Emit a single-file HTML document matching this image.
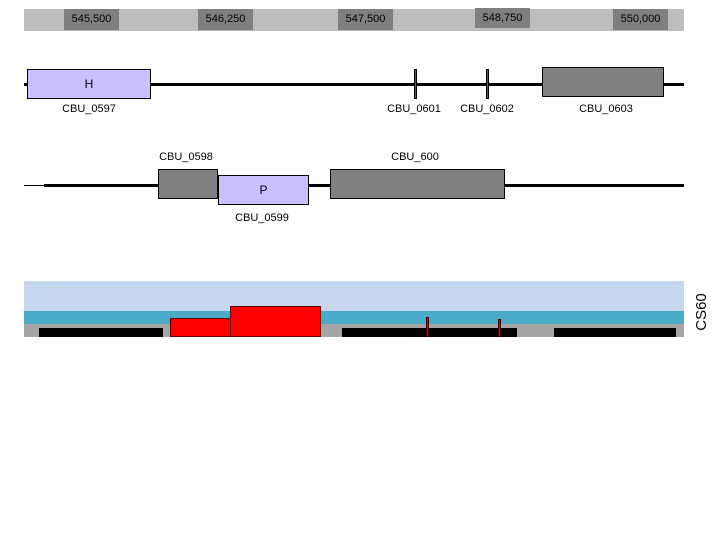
<!DOCTYPE html>
<html><head><style>
body{margin:0;width:720px;height:540px;background:#fff;position:relative;overflow:hidden;font-family:"Liberation Sans",sans-serif;font-size:11px}
div{position:absolute;box-sizing:border-box}
.t{text-align:center;color:#000}
.lb{background:#7f7f7f;color:#000;text-align:center;line-height:21px;height:21px;width:55px;top:9px}
.g{background:#808080;border:1px solid #000}
.p{background:#c8c0ff;border:1px solid #000;text-align:center}
</style></head><body>
<div style="left:24px;top:9px;width:660px;height:22px;background:#bdbdbd"></div>
<div class="lb" style="left:64px">545,500</div>
<div class="lb" style="left:198px">546,250</div>
<div class="lb" style="left:338px">547,500</div>
<div class="lb" style="left:475px;top:8px;height:20px;line-height:20px">548,750</div>
<div class="lb" style="left:613px">550,000</div>

<div style="left:24px;top:83px;width:660px;height:3px;background:#000"></div>
<div class="p" style="left:27px;top:69px;width:124px;height:30px;line-height:28px;font-size:12px">H</div>
<div style="left:414px;top:69px;width:3px;height:30px;background:#555;border:1px solid #000"></div>
<div style="left:486px;top:69px;width:3px;height:30px;background:#555;border:1px solid #000"></div>
<div class="g" style="left:542px;top:67px;width:122px;height:30px"></div>
<div class="t" style="left:39px;top:103px;width:100px">CBU_0597</div>
<div class="t" style="left:364px;top:103px;width:100px">CBU_0601</div>
<div class="t" style="left:437px;top:103px;width:100px">CBU_0602</div>
<div class="t" style="left:556px;top:103px;width:100px">CBU_0603</div>

<div style="left:24px;top:185px;width:20px;height:1px;background:#000"></div>
<div style="left:44px;top:184px;width:640px;height:3px;background:#000"></div>
<div class="g" style="left:158px;top:169px;width:60px;height:30px"></div>
<div class="p" style="left:218px;top:175px;width:91px;height:30px;line-height:28px;font-size:12px">P</div>
<div class="g" style="left:330px;top:169px;width:175px;height:30px"></div>
<div class="t" style="left:136px;top:151px;width:100px">CBU_0598</div>
<div class="t" style="left:365px;top:151px;width:100px">CBU_600</div>
<div class="t" style="left:212px;top:212px;width:100px">CBU_0599</div>

<div style="left:24px;top:281px;width:660px;height:30px;background:#c5d7ee"></div>
<div style="left:24px;top:311px;width:660px;height:13px;background:#4babc8"></div>
<div style="left:24px;top:324px;width:660px;height:13px;background:#a6a6a6"></div>
<div style="left:39px;top:328px;width:124px;height:9px;background:#000"></div>
<div style="left:342px;top:328px;width:175px;height:9px;background:#000"></div>
<div style="left:554px;top:328px;width:122px;height:9px;background:#000"></div>
<div style="left:170px;top:318px;width:61px;height:19px;background:#f00;border:1px solid #600"></div>
<div style="left:230px;top:306px;width:91px;height:31px;background:#f00;border:1px solid #600"></div>
<div style="left:426px;top:317px;width:3px;height:20px;background:#d00;border:1px solid #400"></div>
<div style="left:498px;top:319px;width:3px;height:18px;background:#d00;border:1px solid #400"></div>
<div style="left:682px;top:302px;width:40px;height:20px;transform:rotate(-90deg);font-size:15px;text-align:center;line-height:20px">CS60</div>
</body></html>
